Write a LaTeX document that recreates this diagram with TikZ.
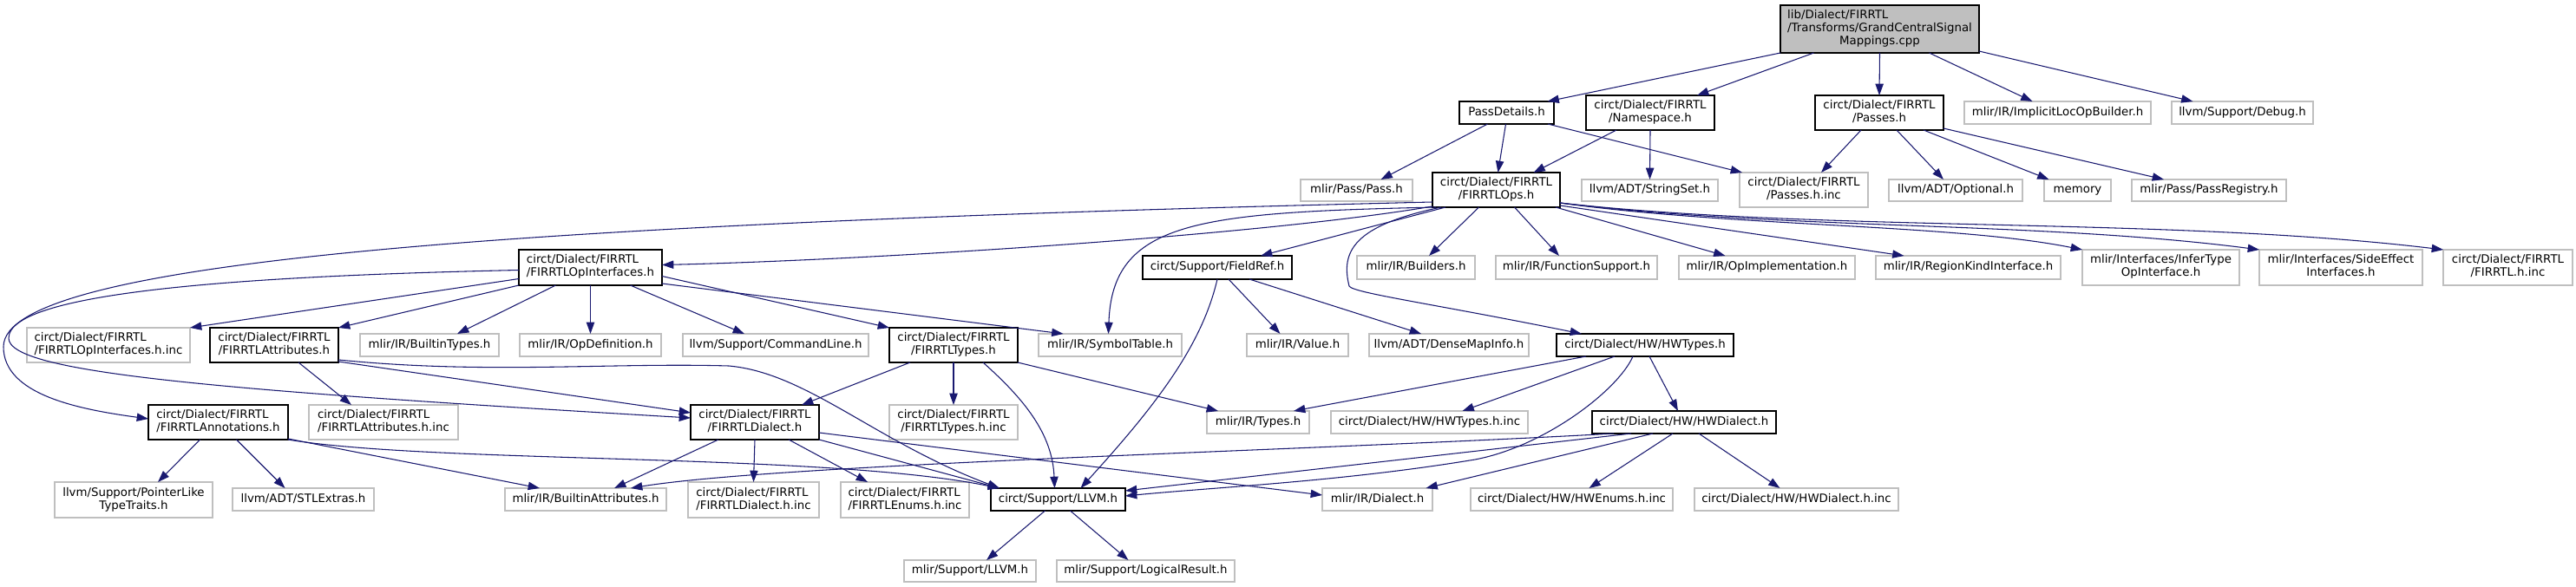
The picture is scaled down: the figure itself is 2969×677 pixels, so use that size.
\documentclass[tikz,border=0pt]{standalone}
\usepackage{fontspec}
\setmainfont{DejaVu Sans}
\usetikzlibrary{arrows.meta}
\definecolor{edgeblue}{RGB}{25,25,112}
\definecolor{greyl}{RGB}{191,191,191}
\newcommand{\twoline}[2]{\begin{tabular}{@{}l@{}}#1\\\multicolumn{1}{@{}c@{}}{#2}\end{tabular}}
\newcommand{\bx}[7]{\node[#6, minimum width={(#4-#2)*0.75}, minimum height={(#5-#3)*0.75}] (#1) at ({(#2+#4)/2},{(#3+#5)/2}) {#7};}
\tikzset{
  every node/.style={font=\fontsize{10}{11.25}\selectfont, inner sep=0pt, outer sep=0pt, line width=1pt},
  intbox/.style={draw=black, fill=white},
  extbox/.style={draw=greyl, fill=white},
  rootbox/.style={draw=black, fill=greyl},
  oneline/.style={text height=7.6pt, text depth=2.4pt},
  lnk/.style={draw=edgeblue, line width=0.8pt, -{Triangle[length=10pt,width=7pt]}},
  xs/.style={xshift=#1*0.75pt},
  ys/.style={yshift=-#1*0.75pt},
}
\begin{document}
\begin{tikzpicture}[x=0.75pt,y=-0.75pt]
\useasboundingbox (0,0) rectangle (2969,677);
\fill[white] (0,0) rectangle (2969,677);
% row 0
\bx{root}{2052}{6}{2281}{61}{rootbox}{\begin{tabular}{@{}l@{}}lib/Dialect/FIRRTL\\/Transforms/GrandCentralSignal\\\multicolumn{1}{@{}c@{}}{Mappings.cpp}\end{tabular}}
% row 1
\bx{pd}{1682}{117}{1791}{143}{intbox,oneline}{PassDetails.h}
\bx{ns}{1828}{110}{1976}{150}{intbox}{\twoline{circt/Dialect/FIRRTL}{/Namespace.h}}
\bx{passes}{2092}{110}{2240}{150}{intbox}{\twoline{circt/Dialect/FIRRTL}{/Passes.h}}
\bx{implicit}{2264}{117}{2479}{143}{extbox,oneline}{mlir/IR/ImplicitLocOpBuilder.h}
\bx{debug}{2503}{117}{2666}{143}{extbox,oneline}{llvm/Support/Debug.h}
% row 2
\bx{passh}{1499}{207}{1628}{232}{extbox,oneline}{mlir/Pass/Pass.h}
\bx{ops}{1651}{199}{1798}{239}{intbox}{\twoline{circt/Dialect/FIRRTL}{/FIRRTLOps.h}}
\bx{stringset}{1823}{207}{1980}{232}{extbox,oneline}{llvm/ADT/StringSet.h}
\bx{passesinc}{2005}{199}{2153}{239}{extbox}{\twoline{circt/Dialect/FIRRTL}{/Passes.h.inc}}
\bx{optional}{2177}{207}{2331}{232}{extbox,oneline}{llvm/ADT/Optional.h}
\bx{memory}{2356}{207}{2433}{232}{extbox,oneline}{memory}
\bx{passreg}{2457}{207}{2635}{232}{extbox,oneline}{mlir/Pass/PassRegistry.h}
% row 3
\bx{opif}{598}{288}{763}{329}{intbox}{\twoline{circt/Dialect/FIRRTL}{/FIRRTLOpInterfaces.h}}
\bx{fieldref}{1317}{295}{1489}{322}{intbox,oneline}{circt/Support/FieldRef.h}
\bx{builders}{1564}{295}{1700}{322}{extbox,oneline}{mlir/IR/Builders.h}
\bx{funcsup}{1724}{295}{1910}{322}{extbox,oneline}{mlir/IR/FunctionSupport.h}
\bx{opimpl}{1935}{295}{2138}{322}{extbox,oneline}{mlir/IR/OpImplementation.h}
\bx{regionkind}{2162}{295}{2375}{322}{extbox,oneline}{mlir/IR/RegionKindInterface.h}
\bx{infertype}{2400}{288}{2581}{329}{extbox}{\twoline{mlir/Interfaces/InferType}{OpInterface.h}}
\bx{sideeffect}{2604}{288}{2792}{329}{extbox}{\twoline{mlir/Interfaces/SideEffect}{Interfaces.h}}
\bx{firrtlinc}{2816}{288}{2965}{329}{extbox}{\twoline{circt/Dialect/FIRRTL}{/FIRRTL.h.inc}}
% row 4
\bx{opifinc}{31}{378}{219}{418}{extbox}{\twoline{circt/Dialect/FIRRTL}{/FIRRTLOpInterfaces.h.inc}}
\bx{attrs}{242}{378}{390}{418}{intbox}{\twoline{circt/Dialect/FIRRTL}{/FIRRTLAttributes.h}}
\bx{builtintypes}{415}{385}{575}{411}{extbox,oneline}{mlir/IR/BuiltinTypes.h}
\bx{opdef}{599}{385}{762}{411}{extbox,oneline}{mlir/IR/OpDefinition.h}
\bx{cmdline}{787}{385}{1001}{411}{extbox,oneline}{llvm/Support/CommandLine.h}
\bx{types}{1025}{378}{1173}{418}{intbox}{\twoline{circt/Dialect/FIRRTL}{/FIRRTLTypes.h}}
\bx{symtab}{1197}{385}{1362}{411}{extbox,oneline}{mlir/IR/SymbolTable.h}
\bx{value}{1437}{385}{1554}{411}{extbox,oneline}{mlir/IR/Value.h}
\bx{densemap}{1578}{385}{1762}{411}{extbox,oneline}{llvm/ADT/DenseMapInfo.h}
\bx{hwtypes}{1794}{385}{1998}{411}{intbox,oneline}{circt/Dialect/HW/HWTypes.h}
% row 5
\bx{annot}{171}{467}{332}{507}{intbox}{\twoline{circt/Dialect/FIRRTL}{/FIRRTLAnnotations.h}}
\bx{attrsinc}{356}{467}{528}{507}{extbox}{\twoline{circt/Dialect/FIRRTL}{/FIRRTLAttributes.h.inc}}
\bx{dialect}{796}{467}{944}{507}{intbox}{\twoline{circt/Dialect/FIRRTL}{/FIRRTLDialect.h}}
\bx{typesinc}{1025}{467}{1173}{507}{extbox}{\twoline{circt/Dialect/FIRRTL}{/FIRRTLTypes.h.inc}}
\bx{irtypes}{1391}{474}{1509}{500}{extbox,oneline}{mlir/IR/Types.h}
\bx{hwtypesinc}{1534}{474}{1761}{500}{extbox,oneline}{circt/Dialect/HW/HWTypes.h.inc}
\bx{hwdialect}{1835}{474}{2047}{500}{intbox,oneline}{circt/Dialect/HW/HWDialect.h}
% row 6
\bx{ptrlike}{63}{556}{245}{597}{extbox}{\twoline{llvm/Support/PointerLike}{TypeTraits.h}}
\bx{stlextras}{268}{563}{431}{589}{extbox,oneline}{llvm/ADT/STLExtras.h}
\bx{builtinattr}{582}{563}{768}{589}{extbox,oneline}{mlir/IR/BuiltinAttributes.h}
\bx{dialectinc}{793}{556}{944}{597}{extbox}{\twoline{circt/Dialect/FIRRTL}{/FIRRTLDialect.h.inc}}
\bx{enumsinc}{969}{556}{1117}{597}{extbox}{\twoline{circt/Dialect/FIRRTL}{/FIRRTLEnums.h.inc}}
\bx{llvmh}{1142}{563}{1297}{589}{intbox,oneline}{circt/Support/LLVM.h}
\bx{irdialect}{1524}{563}{1651}{589}{extbox,oneline}{mlir/IR/Dialect.h}
\bx{hwenums}{1695}{563}{1928}{589}{extbox,oneline}{circt/Dialect/HW/HWEnums.h.inc}
\bx{hwdialectinc}{1953}{563}{2188}{589}{extbox,oneline}{circt/Dialect/HW/HWDialect.h.inc}
% row 7
\bx{mlirllvm}{1042}{646}{1194}{671}{extbox,oneline}{mlir/Support/LLVM.h}
\bx{logical}{1218}{646}{1423}{671}{extbox,oneline}{mlir/Support/LogicalResult.h}

% ---- edges ----
% root
\draw[lnk] (root.south west) -- ([xs=47]pd.north);
\draw[lnk] ([xs=-76]root.south) -- ([xs=54]ns.north);
\draw[lnk] (root.south) -- (passes.north);
\draw[lnk] ([xs=57]root.south) -- ([xs=-29]implicit.north);
\draw[lnk] ([ys=-2]root.south east) -- ([xs=-57]debug.north);
% PassDetails
\draw[lnk] ([xs=-22]pd.south) -- ([xs=28]passh.north);
\draw[lnk] ([xs=-1]pd.south) -- ([xs=2]ops.north);
\draw[lnk] ([xs=-7]pd.south east) -- ([xs=3]passesinc.north west);
% Namespace
\draw[lnk] ([xs=-39]ns.south) -- ([xs=43]ops.north);
\draw[lnk] (ns.south) -- (stringset.north);
% Passes
\draw[lnk] ([xs=-21]passes.south) -- ([xs=20]passesinc.north);
\draw[lnk] ([xs=20]passes.south) -- ([xs=-14]optional.north);
\draw[lnk] ([xs=51]passes.south) -- ([xs=-33]memory.north);
\draw[lnk] ([ys=-2]passes.south east) -- ([xs=-52]passreg.north);
% FIRRTLOps
\draw[lnk] ([ys=-1]ops.south west) .. controls (1450,272) and (1000,300) .. ([ys=-3]opif.east);
\draw[lnk] ([ys=-6]ops.south west) .. controls (600,258) and (4,300) .. (4,400) .. controls (4,455) and (90,472) .. ([ys=-4]annot.west);
\draw[lnk] ([xs=4]ops.south west) .. controls (1380,245) and (1282,255) .. ([xs=-2]symtab.north);
\draw[lnk] ([xs=15]ops.south west) -- ([xs=50]fieldref.north);
\draw[lnk] ([xs=-20]ops.south) -- ([xs=15]builders.north);
\draw[lnk] ([xs=21]ops.south) -- ([xs=-20]funcsup.north);
\draw[lnk] ([xs=-5]ops.south east) -- ([xs=-48]opimpl.north);
\draw[lnk] ([ys=-2]ops.south east) -- ([xs=-74]regionkind.north);
\draw[lnk] ([ys=-5]ops.south east) .. controls (2000,262) and (2250,258) .. (infertype.north west);
\draw[lnk] ([ys=-5]ops.south east) .. controls (2050,265) and (2350,255) .. (sideeffect.north west);
\draw[lnk] ([ys=-5]ops.south east) .. controls (2100,268) and (2500,250) .. (firrtlinc.north west);
\draw[lnk] ([xs=10]ops.south west) .. controls (1560,260) and (1545,290) .. (1555,330) .. controls (1560,338) and (1650,350) .. ([xs=-73]hwtypes.north);
% FieldRef
\draw[lnk] ([xs=13]fieldref.south) -- ([xs=-20]value.north);
\draw[lnk] ([xs=37]fieldref.south) -- ([xs=-32]densemap.north);
\draw[lnk] (fieldref.south) .. controls (1385,400) and (1330,470) .. ([xs=26]llvmh.north);
% FIRRTLOpInterfaces
\draw[lnk] ([ys=13]opif.west) -- (opifinc.north east);
\draw[lnk] (opif.south west) -- (attrs.north east);
\draw[lnk] ([xs=-40]opif.south) -- ([xs=32]builtintypes.north);
\draw[lnk] (opif.south) -- (opdef.north);
\draw[lnk] ([xs=46]opif.south) -- ([xs=-36]cmdline.north);
\draw[lnk] ([ys=10]opif.east) -- (types.north west);
\draw[lnk] ([ys=-2]opif.south east) -- ([xs=-54]symtab.north);
\draw[lnk] ([ys=3]opif.west) .. controls (300,318) and (10,335) .. (10,390) .. controls (10,430) and (250,450) .. ([ys=-5]dialect.west);
% FIRRTLAttributes
\draw[lnk] ([xs=28]attrs.south) -- ([xs=-37]attrsinc.north);
\draw[lnk] ([ys=-1]attrs.south east) -- ([ys=-11]dialect.west);
\draw[lnk] ([ys=-3]attrs.south east) .. controls (560,432) and (700,418) .. (840,422) .. controls (930,430) and (1010,510) .. ([xs=10]llvmh.north west);
% FIRRTLTypes
\draw[lnk] ([xs=-50]types.south) -- ([xs=54]dialect.north);
\draw[lnk] (types.south) -- (typesinc.north);
\draw[lnk] ([xs=34]types.south) .. controls (1180,460) and (1213,500) .. ([xs=-4]llvmh.north);
\draw[lnk] (types.south east) -- ([xs=-46]irtypes.north);
% FIRRTLDialect
\draw[lnk] ([xs=-42]dialect.south) -- ([xs=33]builtinattr.north);
\draw[lnk] (dialect.south) -- (dialectinc.north);
\draw[lnk] ([xs=39]dialect.south) -- ([xs=-43]enumsinc.north);
\draw[lnk] (dialect.south east) -- ([xs=10]llvmh.north west);
\draw[lnk] ([ys=12]dialect.east) -- ([ys=-5]irdialect.west);
% FIRRTLAnnotations
\draw[lnk] ([xs=-21]annot.south) -- ([xs=28]ptrlike.north);
\draw[lnk] ([xs=21]annot.south) -- ([xs=-21]stlextras.north);
\draw[lnk] ([ys=-1]annot.south east) -- ([xs=-53]builtinattr.north);
\draw[lnk] (annot.south east) .. controls (500,535) and (950,522) .. ([xs=10]llvmh.north west);
% LLVM.h
\draw[lnk] ([xs=-15]llvmh.south) -- ([xs=19]mlirllvm.north);
\draw[lnk] ([xs=14]llvmh.south) -- ([xs=-20]logical.north);
% HWTypes
\draw[lnk] ([xs=-68]hwtypes.south) -- ([xs=41]irtypes.north);
\draw[lnk] ([xs=-35]hwtypes.south) -- ([xs=38]hwtypesinc.north);
\draw[lnk] ([xs=-14]hwtypes.south) .. controls (1865,450) and (1780,515) .. (1700,530) .. controls (1550,555) and (1400,562) .. ([ys=-4]llvmh.east);
\draw[lnk] ([xs=5]hwtypes.south) -- ([xs=-7]hwdialect.north);
% HWDialect
\draw[lnk] ([xs=-61]hwdialect.south) -- ([ys=-10]llvmh.east);
\draw[lnk] ([xs=-81]hwdialect.south) .. controls (1500,520) and (900,535) .. ([xs=52]builtinattr.north);
\draw[lnk] ([xs=-36]hwdialect.south) -- ([xs=56]irdialect.north);
\draw[lnk] ([xs=-13]hwdialect.south) -- ([xs=20]hwenums.north);
\draw[lnk] ([xs=17]hwdialect.south) -- ([xs=-19]hwdialectinc.north);
\end{tikzpicture}
\end{document}
